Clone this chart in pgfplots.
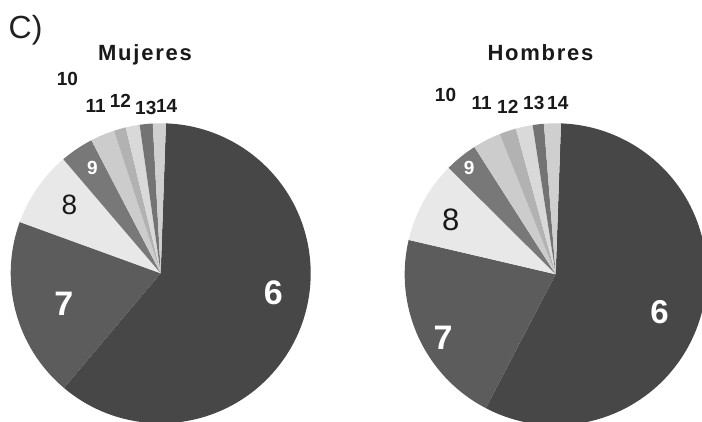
\documentclass[border=0pt]{standalone}
\usepackage{fontspec}
\setmainfont{Liberation Sans}
\newfontfamily\spaced[LetterSpace=8]{Liberation Sans}
\usepackage{pgfplots}
\usepackage{pgfplotstable}
\pgfplotsset{compat=1.18}

% percentages of each slice, and their grey (percent black)
\pgfplotstableread{
cat pct blk
6  60.6 72
7  19.4 64
8  8.2  9
9  3.6  53
10 2.6  20
11 1.3  30
12 1.5  15
13 1.4  55
14 1.4  19
}\tblM
\pgfplotstableread{
cat pct blk
6  57.1 72
7  21.0 64
8  8.8  9
9  3.5  53
10 3.0  20
11 1.8  30
12 1.8  15
13 1.2  55
14 1.8  19
}\tblH
\pgfplotstablecreatecol[create col/expr accum={\pgfmathaccuma+\thisrow{pct}}{0}]{cum}{\tblM}
\pgfplotstablecreatecol[create col/expr accum={\pgfmathaccuma+\thisrow{pct}}{0}]{cum}{\tblH}

\newcommand\pieR{150pt}
\pgfplotsset{
  pie/.style={
    only marks, scatter, mark=*, mark size=0pt,
    mark options={draw=none, fill=none},
    visualization depends on={88-3.6*\thisrow{cum} \as \angEnd},
    visualization depends on={88-3.6*\thisrow{cum}+3.6*\thisrow{pct} \as \angStart},
    visualization depends on={\thisrow{blk} \as \grayPct},
    scatter/@pre marker code/.code={%
      \path[fill=black!\grayPct, draw=none] (0pt,0pt) -- (\angEnd:\pieR) arc[start angle=\angEnd, end angle=\angStart, radius=\pieR] -- cycle;%
    },
    scatter/@post marker code/.code={},
  },
  pieaxis/.style={
    hide axis, scale only axis, width=320pt, height=320pt,
    xmin=-160, xmax=160, ymin=-160, ymax=160, clip=false, anchor=center,
  },
}

\begin{document}
\begin{tikzpicture}[x=1pt,y=1pt]
\useasboundingbox (0,0) rectangle (702,422);
\clip (0,0) rectangle (702,422);

\begin{axis}[pieaxis, at={(160.7pt,148.7pt)}]
\addplot[pie] table[x expr=0, y expr=0] {\tblM};
\end{axis}

\renewcommand\pieR{151pt}
\begin{axis}[pieaxis, at={(555.7pt,147.7pt)}]
\addplot[pie] table[x expr=0, y expr=0] {\tblH};
\end{axis}

\tikzset{
  sm/.style={inner sep=0pt, anchor=center, text=black!90, font=\bfseries\fontsize{19}{19}\selectfont},
  nine/.style={inner sep=0pt, anchor=center, text=white, font=\bfseries\fontsize{19}{19}\selectfont},
  big/.style={inner sep=0pt, anchor=center, text=white, font=\bfseries\fontsize{34}{34}\selectfont},
}

% titles
\node[inner sep=0pt, anchor=base west, text=black!87, font=\fontsize{32}{32}\selectfont] at (8.5,383.5) {C)};
\node[inner sep=0pt, anchor=base, text=black!90, font=\spaced\bfseries\fontsize{22}{22}\selectfont] at (145,361.3) {Mujeres};
\node[inner sep=0pt, anchor=base, text=black!90, font=\spaced\bfseries\fontsize{22}{22}\selectfont] at (540.5,361.3) {Hombres};

% Mujeres labels
\node[sm] at (67.5,343.5) {10};
\node[sm] at (95.7,316.5) {11};
\node[sm] at (120.5,321.2) {12};
\node[sm] at (145.8,313.7) {13};
\node[sm] at (166.7,316.5) {14};
\node[nine] at (92.5,254) {9};
\node[inner sep=0pt, text=black!90, font=\fontsize{28}{28}\selectfont] at (69.5,217) {8};
\node[big] at (63.8,118) {7};
\node[big] at (273.3,129.5) {6};

% Hombres labels
\node[sm] at (445.5,326.7) {10};
\node[sm] at (481.7,318.7) {11};
\node[sm] at (507.8,315.3) {12};
\node[sm] at (533.8,318.7) {13};
\node[sm] at (557.8,318.7) {14};
\node[nine] at (469.2,254) {9};
\node[inner sep=0pt, text=black!90, font=\fontsize{31}{31}\selectfont] at (450.8,202.5) {8};
\node[big] at (443,84.5) {7};
\node[big, font=\bfseries\fontsize{33}{33}\selectfont] at (659.5,110.3) {6};
\end{tikzpicture}
\end{document}
